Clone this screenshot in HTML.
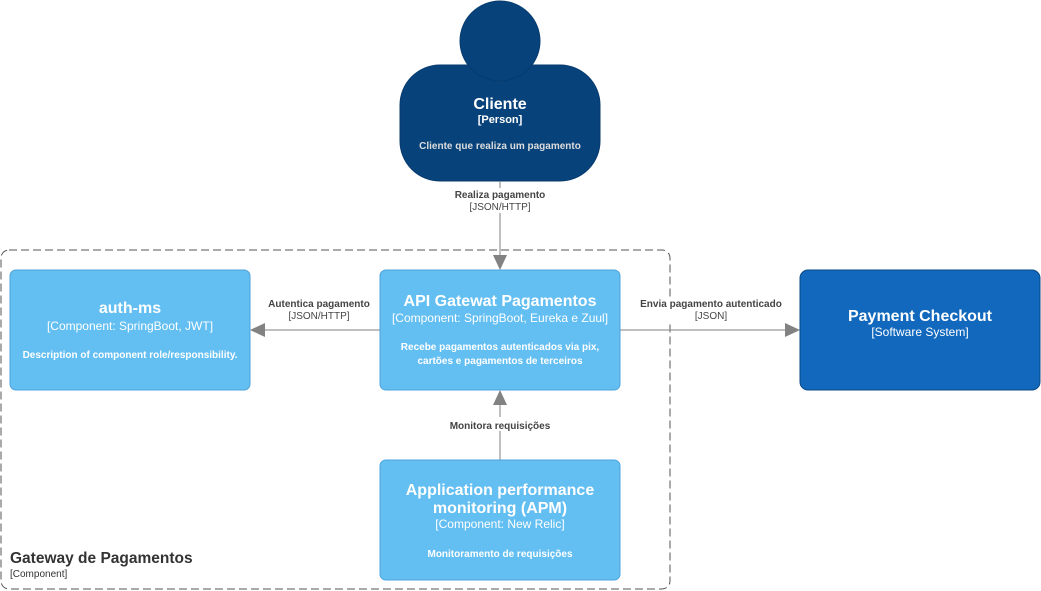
<!DOCTYPE html>
<html><head><meta charset="utf-8"><style>
html,body{margin:0;padding:0;background:#fff;}
svg{display:block;font-family:"Liberation Sans",Arial,sans-serif;}
</style></head><body>
<svg width="1041" height="591" viewBox="0 0 1041 591" xmlns="http://www.w3.org/2000/svg">
<rect x="1" y="250" width="669" height="339" rx="8" fill="none" stroke="#555" stroke-dasharray="8 4" stroke-width="1"/>
<text x="10" y="563" font-size="15.5" font-weight="bold" fill="#333">Gateway de Pagamentos</text>
<text x="10" y="577" font-size="10" fill="#333">[Component]</text>

<!-- person -->
<rect x="400" y="65" width="200" height="116" rx="40" fill="#08427B" stroke="#073B6F"/>
<circle cx="500" cy="41" r="40" fill="#08427B" stroke="#073B6F"/>
<text x="500" y="109" font-size="16" font-weight="bold" fill="#fff" text-anchor="middle">Cliente</text>
<text x="500" y="123" font-size="11" font-weight="bold" fill="#fff" text-anchor="middle">[Person]</text>
<text x="500" y="149" font-size="10" font-weight="bold" fill="#ddd" text-anchor="middle">Cliente que realiza um pagamento</text>

<!-- connectors -->
<g stroke="#828282" stroke-width="1" fill="none">
<line x1="500" y1="181" x2="500" y2="258"/>
<line x1="262" y1="330" x2="380" y2="330"/>
<line x1="620" y1="330" x2="788" y2="330"/>
<line x1="500" y1="460" x2="500" y2="402"/>
</g>
<g fill="#828282">
<polygon points="500,270 493,255 507,255"/>
<polygon points="250,330 265,323 265,337"/>
<polygon points="800,330 785,323 785,337"/>
<polygon points="500,390 493,405 507,405"/>
</g>
<g font-size="10" fill="#444" text-anchor="middle">
<rect x="450" y="188" width="100" height="25" fill="#fff"/>
<text x="500" y="198" font-weight="bold">Realiza pagamento</text>
<text x="500" y="210">[JSON/HTTP]</text>
<rect x="265" y="297" width="110" height="26" fill="#fff"/>
<text x="319" y="307" font-weight="bold">Autentica pagamento</text>
<text x="319" y="319">[JSON/HTTP]</text>
<rect x="633" y="297" width="156" height="26" fill="#fff"/>
<text x="711" y="307" font-weight="bold">Envia pagamento autenticado</text>
<text x="711" y="319">[JSON]</text>
<rect x="445" y="417" width="110" height="14" fill="#fff"/>
<text x="500" y="429" font-weight="bold">Monitora requisições</text>
</g>

<!-- auth -->
<rect x="10" y="270" width="240" height="120" rx="6" fill="#63BEF2" stroke="#4DA2DA"/>
<text x="130" y="313" font-size="16" font-weight="bold" fill="#fff" text-anchor="middle">auth-ms</text>
<text x="130" y="330" font-size="12" fill="#fff" text-anchor="middle">[Component: SpringBoot, JWT]</text>
<text x="130" y="358" font-size="10" font-weight="bold" fill="#fff" text-anchor="middle">Description of component role/responsibility.</text>

<!-- API -->
<rect x="380" y="270" width="240" height="120" rx="6" fill="#63BEF2" stroke="#4DA2DA"/>
<text x="500" y="306" font-size="16" font-weight="bold" fill="#fff" text-anchor="middle">API Gatewat Pagamentos</text>
<text x="500" y="322" font-size="12" fill="#fff" text-anchor="middle">[Component: SpringBoot, Eureka e Zuul]</text>
<text x="500" y="350" font-size="10" font-weight="bold" fill="#fff" text-anchor="middle">Recebe pagamentos autenticados via pix,</text>
<text x="500" y="364" font-size="10" font-weight="bold" fill="#fff" text-anchor="middle">cartões e pagamentos de terceiros</text>

<!-- APM -->
<rect x="380" y="460" width="240" height="120" rx="6" fill="#63BEF2" stroke="#4DA2DA"/>
<text x="500" y="495" font-size="16" font-weight="bold" fill="#fff" text-anchor="middle">Application performance</text>
<text x="500" y="513" font-size="16" font-weight="bold" fill="#fff" text-anchor="middle">monitoring (APM)</text>
<text x="500" y="528" font-size="12" fill="#fff" text-anchor="middle">[Component: New Relic]</text>
<text x="500" y="557" font-size="10" font-weight="bold" fill="#fff" text-anchor="middle">Monitoramento de requisições</text>

<!-- Payment -->
<rect x="800" y="270" width="240" height="120" rx="8" fill="#1168BD" stroke="#0B4884"/>
<text x="920" y="321" font-size="16" font-weight="bold" fill="#fff" text-anchor="middle">Payment Checkout</text>
<text x="920" y="336" font-size="12" fill="#fff" text-anchor="middle">[Software System]</text>
</svg>
</body></html>
